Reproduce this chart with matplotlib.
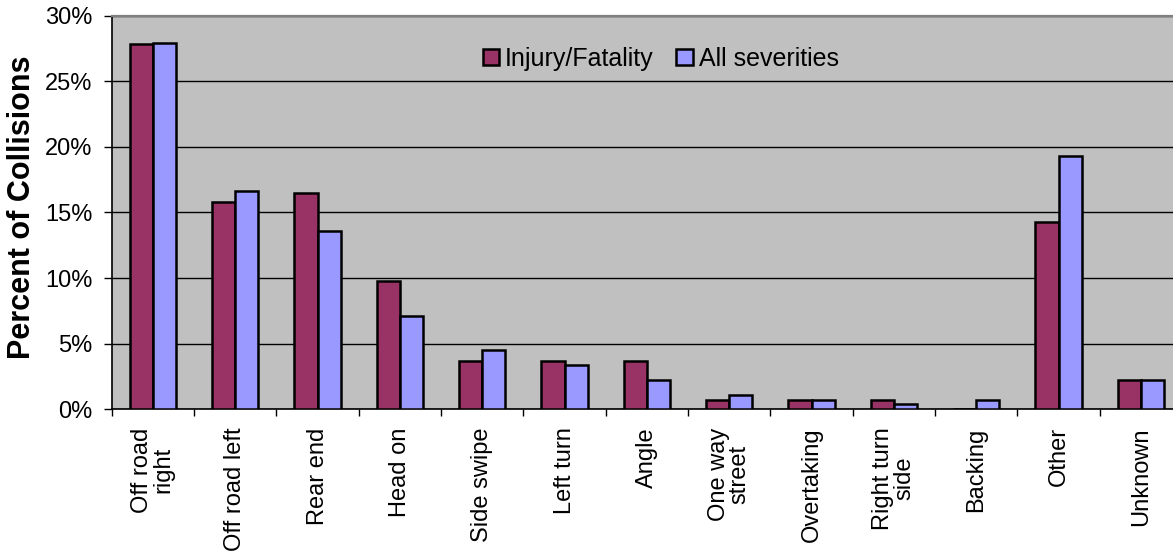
import matplotlib.pyplot as plt
import numpy as np

plt.rcParams['font.family'] = ['Liberation Sans', 'DejaVu Sans']

categories = ["Off road\nright", "Off road left", "Rear end", "Head on", "Side swipe",
              "Left turn", "Angle", "One way\nstreet", "Overtaking", "Right turn\nside",
              "Backing", "Other", "Unknown"]
injury_fatality = [27.8, 15.8, 16.5, 9.8, 3.7, 3.7, 3.7, 0.7, 0.7, 0.7, 0.0, 14.3, 2.2]
all_severities = [27.9, 16.6, 13.6, 7.1, 4.5, 3.4, 2.2, 1.1, 0.7, 0.4, 0.7, 19.3, 2.2]

fig = plt.figure(figsize=(11.73, 5.58), dpi=100)
ax = fig.add_axes([0.0952, 0.2665, 0.9125, 0.7057])
ax.set_facecolor("#C0C0C0")

x = np.arange(len(categories))
w = 0.28
ax.bar(x - w / 2, injury_fatality, w, color="#993366", edgecolor="black", linewidth=1.8,
       label="Injury/Fatality", zorder=3)
ax.bar(x + w / 2, all_severities, w, color="#9999FF", edgecolor="black", linewidth=1.8,
       label="All severities", zorder=3)

ax.set_xlim(-0.5, len(categories) - 0.5)
ax.set_ylim(0, 30)
ax.set_yticks(np.arange(0, 31, 5))
ax.set_yticklabels([f"{v}%" for v in range(0, 31, 5)], fontsize=17)
ax.yaxis.grid(True, color="black", linewidth=1.0, zorder=1)
ax.set_axisbelow(True)

ax.set_xticks(x)
ax.set_xticklabels(categories, rotation=90, fontsize=17, ha="center", va="top",
                   multialignment="center", linespacing=0.95)
ax.tick_params(axis="x", length=0, pad=13)
ax.set_xticks(np.arange(-0.5, len(categories), 1), minor=True)
ax.tick_params(axis="x", which="minor", length=5, width=1, color="black")
ax.tick_params(axis="y", length=6, width=1, pad=8)

ax.set_ylabel("Percent of Collisions", fontsize=22, fontweight="bold")
ax.yaxis.set_label_coords(-0.07, 0.514)

for side in ["left", "bottom"]:
    ax.spines[side].set_color("black")
    ax.spines[side].set_linewidth(1.2)
ax.spines["top"].set_color("#808080")
ax.spines["top"].set_linewidth(1.6)
ax.spines["right"].set_visible(False)

ax.legend(loc="center", bbox_to_anchor=(0.513, 0.89), ncol=2, frameon=False,
          fontsize=18, handlelength=0.65, handleheight=0.65, handletextpad=0.25,
          columnspacing=0.9, borderpad=0)

fig.savefig("out.png", dpi=100)
